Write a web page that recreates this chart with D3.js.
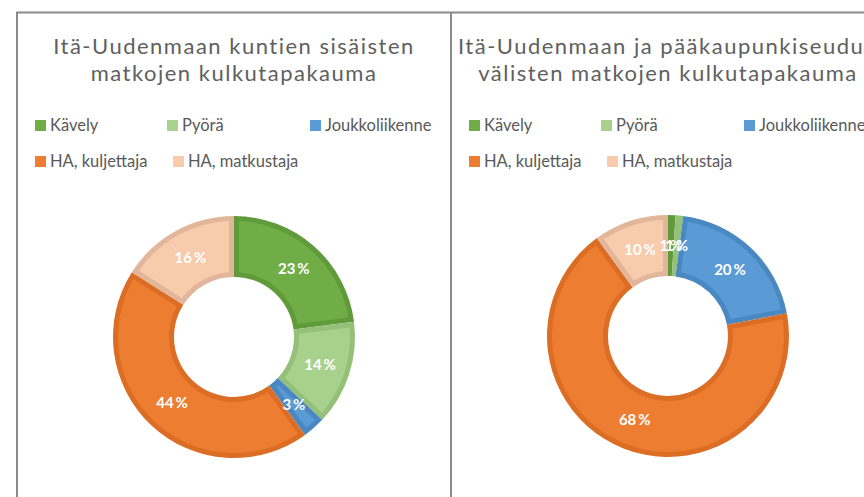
<!DOCTYPE html>
<html>
<head>
<meta charset="utf-8">
<script src="https://cdn.jsdelivr.net/npm/d3@7"></script>
<style>
  body { margin: 0; background: #fff; }
  text { font-family: Lato, "Open Sans", sans-serif; }
</style>
</head>
<body>
<div id="chart"></div>
<script>
const categories = ["Kävely", "Pyörä", "Joukkoliikenne", "HA, kuljettaja", "HA, matkustaja"];
const localShares = [23, 14, 3, 44, 16];      // Itä-Uudenmaan kuntien sisäiset matkat
const regionalShares = [1, 1, 20, 68, 10];    // Itä-Uusimaa <-> pääkaupunkiseutu
const localTitle = ["Itä-Uudenmaan kuntien sisäisten", "matkojen kulkutapakauma"];
const regionalTitle = ["Itä-Uudenmaan ja pääkaupunkiseudun", "välisten matkojen kulkutapakauma"];

const fillColors = ["#70ad47", "#a9d18e", "#5b9bd5", "#ed7d31", "#f8cbad"];
const edgeColors = ["#5f9b3b", "#94c078", "#4a88c2", "#dc6d24", "#e2b69a"];

const width = 864, height = 497;

const svg = d3.select("#chart").append("svg")
  .attr("width", width)
  .attr("height", height);

// panel frames
svg.append("rect")
  .attr("x", 17).attr("y", 12.5)
  .attr("width", 900).attr("height", 520)
  .attr("fill", "none")
  .attr("stroke", "#8a8a8a")
  .attr("stroke-width", 2);
svg.append("line")
  .attr("x1", 451).attr("x2", 451)
  .attr("y1", 12).attr("y2", height)
  .attr("stroke", "#8a8a8a")
  .attr("stroke-width", 2);

const color = d3.scaleOrdinal().domain(categories).range(fillColors);
const edge = d3.scaleOrdinal().domain(categories).range(edgeColors);

// legend positions relative to the donut centre
const legendCols = [[-199, -67, 76], [-199, -61]];

function drawPanel(cx, cy, title, values) {
  const g = svg.append("g");

  g.selectAll(".title")
    .data(title)
    .join("text")
    .attr("class", "title")
    .attr("x", cx)
    .attr("y", (d, i) => 54 + i * 27)
    .attr("text-anchor", "middle")
    .attr("fill", "#606060")
    .style("font-size", "22px")
    .style("letter-spacing", "1.5px")
    .text(d => d);

  const items = categories.map((c, i) => ({
    name: c,
    x: cx + legendCols[i < 3 ? 0 : 1][i < 3 ? i : i - 3],
    y: i < 3 ? 125 : 161
  }));

  const leg = g.selectAll(".legend")
    .data(items)
    .join("g")
    .attr("class", "legend")
    .attr("transform", d => `translate(${d.x},${d.y})`);
  leg.append("rect")
    .attr("x", 0).attr("y", -5)
    .attr("width", 11).attr("height", 11)
    .attr("fill", d => color(d.name));
  leg.append("text")
    .attr("x", 15).attr("y", 6)
    .attr("fill", "#595959")
    .style("font-size", "16.5px")
    .text(d => d.name);

  const pie = d3.pie().sort(null).value(d => d.value);
  const arcs = pie(categories.map((c, i) => ({ name: c, value: values[i] })));

  const rIn = 60, rOut = 121;
  const outer = d3.arc().innerRadius(rIn).outerRadius(rOut);
  const inner = d3.arc().innerRadius(rIn + 5).outerRadius(rOut - 5)
    .padRadius(100).padAngle(0.1);
  const mid = d3.arc().innerRadius(rIn).outerRadius(rOut);

  const donut = g.append("g").attr("transform", `translate(${cx},${cy})`);

  donut.selectAll(".edge")
    .data(arcs)
    .join("path")
    .attr("class", "edge")
    .attr("d", outer)
    .attr("fill", d => edge(d.data.name));

  donut.selectAll(".slice")
    .data(arcs)
    .join("path")
    .attr("class", "slice")
    .attr("d", inner)
    .attr("fill", d => color(d.data.name));

  donut.selectAll(".lbl")
    .data(arcs)
    .join("text")
    .attr("class", "lbl")
    .attr("transform", d => `translate(${mid.centroid(d)})`)
    .attr("text-anchor", "middle")
    .attr("dy", "0.35em")
    .attr("fill", "#fff")
    .style("font-size", "15px")
    .style("font-weight", "bold")
    .text(d => d.data.value + "\u2009%");
}

drawPanel(234, 337, localTitle, localShares);
drawPanel(668, 336, regionalTitle, regionalShares);
</script>
</body>
</html>
